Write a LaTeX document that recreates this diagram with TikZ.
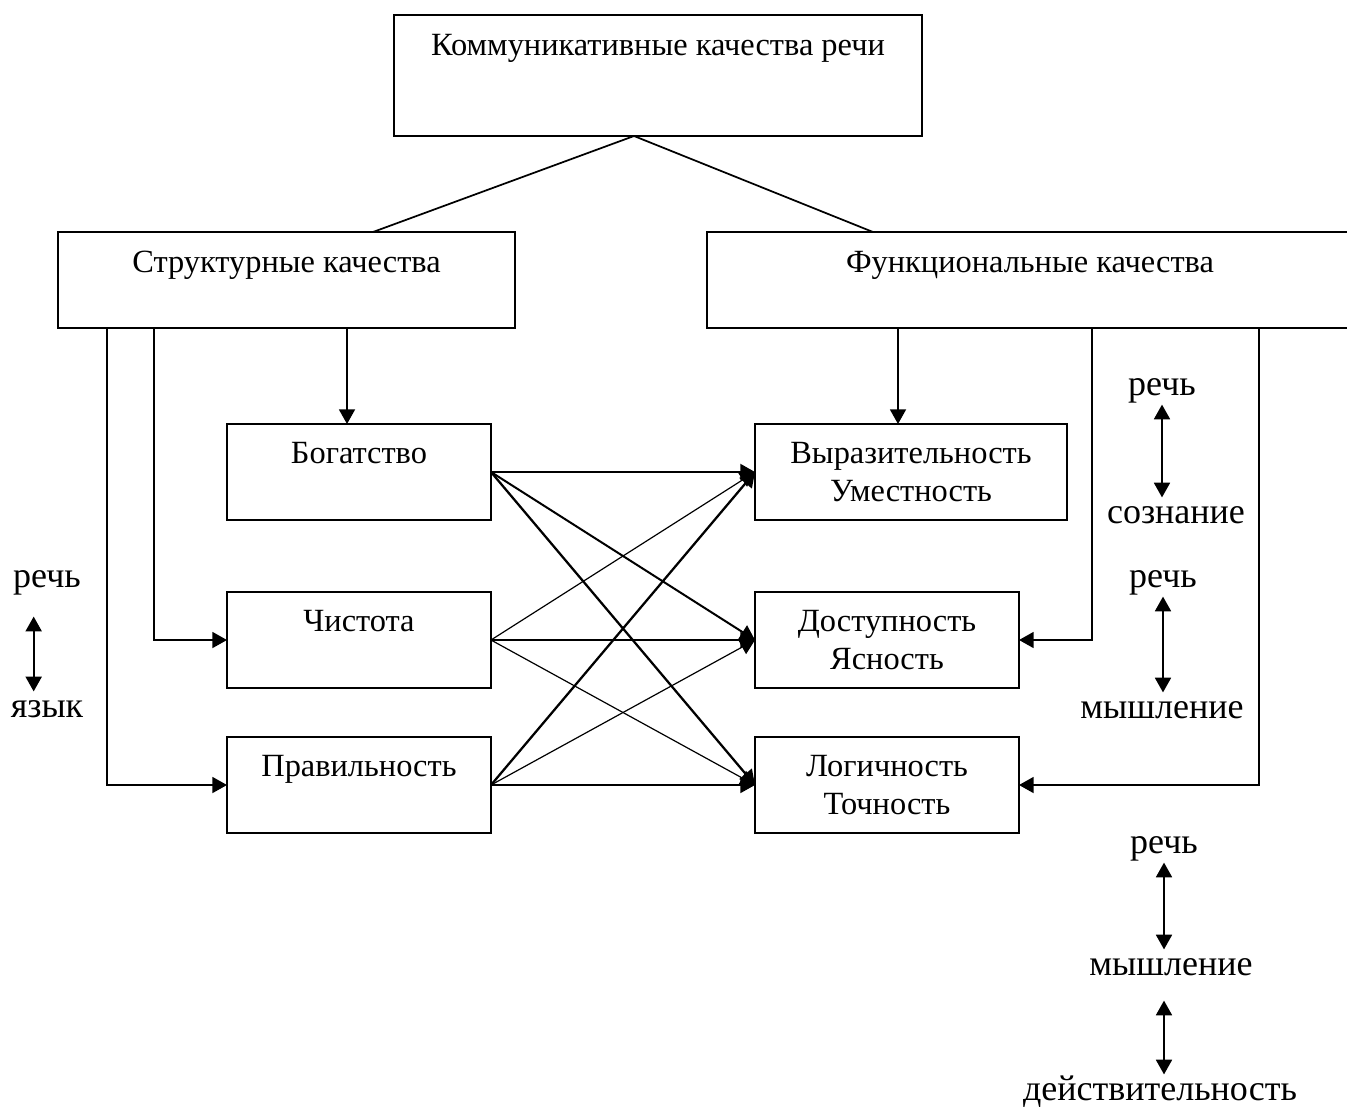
\documentclass[tikz,border=0pt]{standalone}
\usepackage{fontspec}
\setmainfont{Liberation Serif}
\usepackage{tikz}
\usetikzlibrary{
  arrows.meta,
  positioning,
  calc
}
\tikzset{
  cell/.style={
    rectangle, draw, line width=1.3pt,
    inner sep=0pt, outer sep=0pt, anchor=north west,
    minimum width=198pt, minimum height=72pt,
    font=\fontsize{24.3}{28.5}\selectfont, align=center,
    text height=43.5pt, text depth=0pt
  },
  head/.style={
    cell, text height=15pt, text depth=27pt
  },
  word/.style={
    inner sep=0pt, anchor=base,
    font=\fontsize{27}{32}\selectfont,
    text height=19pt, text depth=7pt
  },
  arr/.style={-{Triangle[length=11pt,width=12pt]}, line width=#1},
  arr/.default=1.3pt,
  dbl/.style={
    {Triangle[length=11pt,width=12pt]}-{Triangle[length=11pt,width=12pt]},
    line width=1.3pt
  }
}

\begin{document}
\begin{tikzpicture}[x=0.75pt, y=-0.75pt]

    \useasboundingbox (0,0) rectangle (1347,1108);

    %% ---- top level --------------------------------------------------
    \node[head, minimum width=396pt, minimum height=90.75pt,
          text depth=45.75pt] (top) at (394,15)
      {Коммуникативные качества речи};

    \node[head, minimum width=342.75pt] (st) at (58,232)
      {Структурные качества};
    \node[head, minimum width=484.5pt] (fn) at (707,232)
      {Функциональные качества};

    \coordinate (apex) at ($(top.south west)+(240,0)$);
    \draw[line width=1.3pt] (apex) -- ($(st.north west)+(315,0)$);
    \draw[line width=1.3pt] (apex) -- ($(fn.north west)+(166,0)$);

    %% ---- structural qualities ---------------------------------------
    \node[cell] (s1) at (227,424) {Богатство\\};
    \node[cell] (s2) at (227,592) {Чистота\\};
    \node[cell] (s3) at (227,737) {Правильность\\};

    \draw[arr] ($(st.south west)+(289,0)$) coordinate (sa) -- (sa |- s1.north);
    \draw[arr] ($(st.south west)+(96,0)$) |- (s2.west);
    \draw[arr] ($(st.south west)+(49,0)$) |- (s3.west);

    %% ---- functional qualities ---------------------------------------
    \node[cell, minimum width=234pt] (f1) at (755,424)
      {Выразительность\\Уместность};
    \node[cell] (f2) at (755,592) {Доступность\\Ясность};
    \node[cell] (f3) at (755,737) {Логичность\\Точность};

    \draw[arr] ($(fn.south west)+(191,0)$) coordinate (fa) -- (fa |- f1.north);
    \draw[arr] ($(fn.south west)+(385,0)$) |- (f2.east);
    \draw[arr] ($(fn.south west)+(552,0)$) |- (f3.east);

    %% ---- crossing links ---------------------------------------------
    \draw[arr=1.5pt] (s1.east) -- (f1.west);
    \draw[arr=1.5pt] (s1.east) -- (f2.west);
    \draw[arr=1.7pt] (s1.east) -- (f3.west);
    \draw[arr=0.9pt] (s2.east) -- (f1.west);
    \draw[arr=1.2pt] (s2.east) -- (f2.west);
    \draw[arr=0.9pt] (s2.east) -- (f3.west);
    \draw[arr=1.7pt] (s3.east) -- (f1.west);
    \draw[arr=0.9pt] (s3.east) -- (f2.west);
    \draw[arr=1.3pt] (s3.east) -- (f3.west);

    %% ---- side notes -------------------------------------------------
    \node[word] (lr) at (47,587) {речь};
    \node[word] (ly) at (47,717) {язык};
    \draw[dbl, shorten <=15pt] ([xshift=-10pt]lr.south) -- ([xshift=-10pt]ly.north);

    \node[word] (r1) at (1162,395) {речь};
    \node[word] (c1) at (1176,523) {сознание};
    \draw[dbl] (r1.south) -- (r1.south |- c1.north);

    \node[word] (r2) at (1163,587) {речь};
    \node[word] (m2) at (1162,718) {мышление};
    \draw[dbl] (r2.south) -- (r2.south |- m2.north);

    \node[word] (r3) at (1164,853) {речь};
    \node[word] (m3) at (1171,975) {мышление};
    \node[word] (d3) at (1160,1100) {действительность};
    \draw[dbl] (r3.south) -- (r3.south |- m3.north);
    \draw[dbl, shorten <=12pt] (m3.south -| r3.south) -- (r3.south |- d3.north);

\end{tikzpicture}
\end{document}
